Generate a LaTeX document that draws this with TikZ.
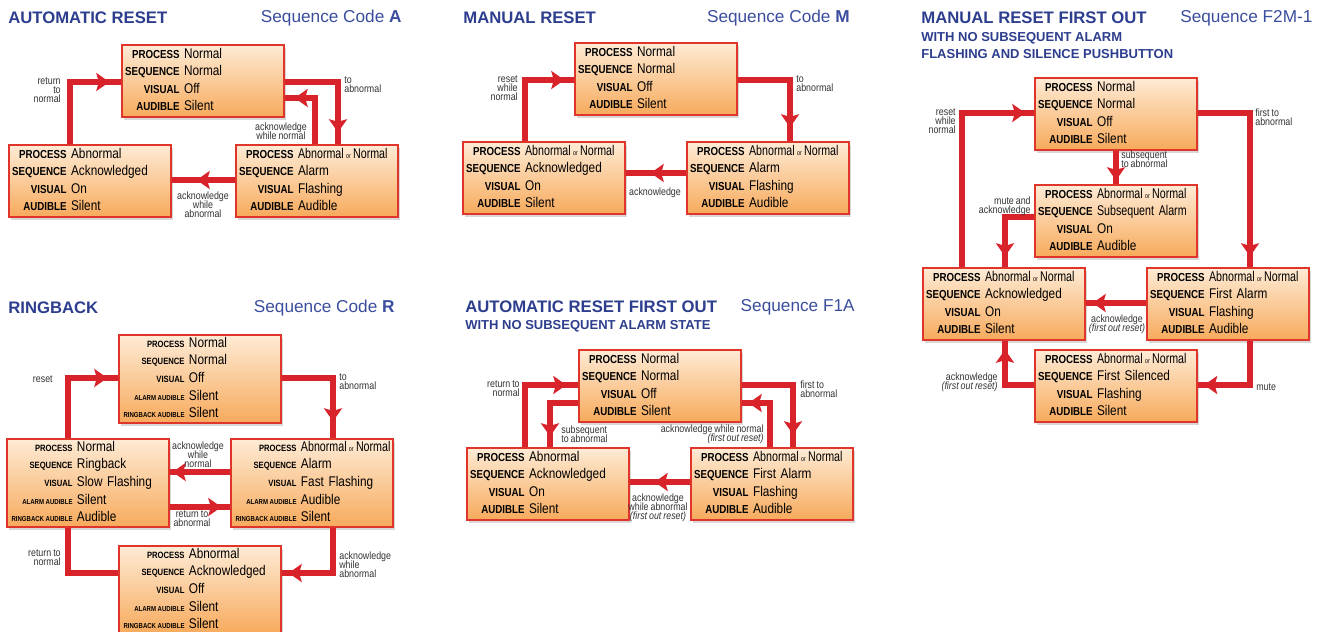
\documentclass[tikz,border=0pt]{standalone}
\usepackage{fontspec}
\usepackage{graphicx}
\setmainfont{Liberation Sans}
\newfontfamily\cfont{Liberation Sans}[FakeStretch=0.84, WordSpace=0.8]
\newfontfamily\nfont{Liberation Sans}[FakeStretch=0.76, WordSpace=0.7]
\usetikzlibrary{arrows.meta, decorations.markings, shadows}
\definecolor{wirered}{HTML}{D9232B}
\definecolor{boxred}{HTML}{E0352B}
\definecolor{boxtop}{HTML}{FEEBD5}
\definecolor{boxbot}{HTML}{F7AA5C}
\definecolor{titleblue}{HTML}{2D3E8E}
\definecolor{seqblue}{HTML}{3B4E9E}
\definecolor{notegray}{HTML}{333333}
\newcommand\lb[1]{{\fontsize{6.6}{10}\selectfont\bfseries #1}}
\newcommand\lbr[1]{{\fontsize{5.2}{10}\selectfont\bfseries #1}}
\newcommand\lbx[2]{{\fontsize{4.1}{10}\selectfont\bfseries #1\hspace{0.9pt}#2}}
\newcommand\ortxt{{\fontsize{4}{4}\selectfont or}}
\newcommand\abn{{\nfont Abnormal\hspace{1.3pt}\ortxt\hspace{1.3pt}Normal}}

\begin{document}
\begin{tikzpicture}[x=0.02cm, y=-0.02cm,
  statebox/.style={rectangle, draw=boxred, line width=0.8pt, top color=boxtop, bottom color=boxbot, minimum width=3.24cm, minimum height=1.44cm, text width=3.12cm, inner xsep=0.06cm, inner ysep=0pt, font={\cfont\fontsize{8}{10}\selectfont}, drop shadow={shadow xshift=0.04cm, shadow yshift=-0.06cm, opacity=0.3}},
  ringbox/.style={statebox, minimum height=1.76cm, inner xsep=0.09cm, text width=3.06cm},
  wire/.style={draw=wirered, line width=0.11cm},
  tipat/.style={postaction={decorate, decoration={markings, mark=at position #1 with {\arrow{Stealth[length=0.26cm, width=0.36cm, inset=0.05cm]}}}}},
  note/.style={font={\cfont\fontsize{6}{5}\selectfont\lineskiplimit=-5pt}, text=notegray, inner sep=0pt},
  ttl/.style={font={\bfseries\fontsize{9.5}{11}\selectfont}, text=titleblue, inner sep=0pt, anchor=west},
  seq/.style={font={\fontsize{9.8}{11}\selectfont}, text=seqblue, inner sep=0pt},
  subttl/.style={font={\bfseries\fontsize{7.4}{9}\selectfont}, text=titleblue, inner sep=0pt, anchor=west},
]
\useasboundingbox[fill=white] (0,0) rectangle (1322,632);

\node[ttl] (a_title) at (8,18) {AUTOMATIC RESET};
\node[seq, anchor=east] (a_code) at (402,18) {Sequence Code \textbf{A}};
\node[statebox] (a_norm) at (203,81) {\noindent\begin{tabular}{@{}r@{\hspace{2.5pt}}l@{}}
\lb{PROCESS} & Normal\\ \lb{SEQUENCE} & Normal\\ \lb{VISUAL} & Off\\ \lb{AUDIBLE} & Silent
\end{tabular}};
\node[statebox] (a_ack) at (90,181) {\noindent\begin{tabular}{@{}r@{\hspace{2.5pt}}l@{}}
\lb{PROCESS} & Abnormal\\ \lb{SEQUENCE} & Acknowledged\\ \lb{VISUAL} & On\\ \lb{AUDIBLE} & Silent
\end{tabular}};
\node[statebox] (a_alarm) at (317,181) {\noindent\begin{tabular}{@{}r@{\hspace{2.5pt}}l@{}}
\lb{PROCESS} & \abn\\ \lb{SEQUENCE} & Alarm\\ \lb{VISUAL} & Flashing\\ \lb{AUDIBLE} & Audible
\end{tabular}};
\coordinate (a_e1) at (70,82);
\coordinate (a_e2) at (338,82);
\coordinate (a_e3) at (315,98);
\coordinate (a_e4) at (204,180);
\draw[wire, tipat=-0.24cm] (a_e1 |- a_ack.north) |- (a_norm.west |- a_e1);
\draw[wire, tipat=-0.24cm] (a_norm.east |- a_e2) -| (a_e2 |- a_alarm.north);
\draw[wire, tipat=-0.2cm] (a_e3 |- a_alarm.north) |- (a_norm.east |- a_e3);
\draw[wire, tipat=-0.5cm] (a_alarm.west |- a_e4) -- (a_ack.east |- a_e4);
\node[note, anchor=east, align=right] (a_n1) at (61,90) {return\\to\\normal};
\node[note, anchor=west, align=left] (a_n2) at (344,85) {to\\abnormal};
\node[note, align=center] (a_n3) at (281,131) {acknowledge\\while normal};
\node[note, align=center] (a_n4) at (203,205) {acknowledge\\while\\abnormal};

\node[ttl] (m_title) at (463,18) {MANUAL RESET};
\node[seq, anchor=east] (m_code) at (850,18) {Sequence Code \textbf{M}};
\node[statebox] (m_norm) at (656,79) {\noindent\begin{tabular}{@{}r@{\hspace{2.5pt}}l@{}}
\lb{PROCESS} & Normal\\ \lb{SEQUENCE} & Normal\\ \lb{VISUAL} & Off\\ \lb{AUDIBLE} & Silent
\end{tabular}};
\node[statebox] (m_ack) at (544,178) {\noindent\begin{tabular}{@{}r@{\hspace{2.5pt}}l@{}}
\lb{PROCESS} & \abn\\ \lb{SEQUENCE} & Acknowledged\\ \lb{VISUAL} & On\\ \lb{AUDIBLE} & Silent
\end{tabular}};
\node[statebox] (m_alarm) at (768,178) {\noindent\begin{tabular}{@{}r@{\hspace{2.5pt}}l@{}}
\lb{PROCESS} & \abn\\ \lb{SEQUENCE} & Alarm\\ \lb{VISUAL} & Flashing\\ \lb{AUDIBLE} & Audible
\end{tabular}};
\coordinate (m_e1) at (525,80);
\coordinate (m_e2) at (790,80);
\coordinate (m_e3) at (656,173);
\draw[wire, tipat=-0.2cm] (m_e1 |- m_ack.north) |- (m_norm.west |- m_e1);
\draw[wire, tipat=-0.28cm] (m_norm.east |- m_e2) -| (m_e2 |- m_alarm.north);
\draw[wire, tipat=-0.5cm] (m_alarm.west |- m_e3) -- (m_ack.east |- m_e3);
\node[note, anchor=east, align=right] (m_n1) at (518,88) {reset\\while\\normal};
\node[note, anchor=west, align=left] (m_n2) at (796,84) {to\\abnormal};
\node[note, align=center] (m_n3) at (655,193) {acknowledge};

\node[ttl] (f_title) at (921,18) {MANUAL RESET FIRST OUT};
\node[seq, anchor=west] (f_code) at (1180,18) {Sequence F2M-1};
\node[subttl] (f_sub1) at (921,38) {WITH NO SUBSEQUENT ALARM};
\node[subttl] (f_sub2) at (921,54) {FLASHING AND SILENCE PUSHBUTTON};
\node[statebox] (f_norm) at (1116,114) {\noindent\begin{tabular}{@{}r@{\hspace{2.5pt}}l@{}}
\lb{PROCESS} & Normal\\ \lb{SEQUENCE} & Normal\\ \lb{VISUAL} & Off\\ \lb{AUDIBLE} & Silent
\end{tabular}};
\node[statebox] (f_sub) at (1116,221) {\noindent\begin{tabular}{@{}r@{\hspace{2.5pt}}l@{}}
\lb{PROCESS} & \abn\\ \lb{SEQUENCE} & {\nfont Subsequent Alarm}\\ \lb{VISUAL} & On\\ \lb{AUDIBLE} & Audible
\end{tabular}};
\node[statebox] (f_ack) at (1004,304) {\noindent\begin{tabular}{@{}r@{\hspace{2.5pt}}l@{}}
\lb{PROCESS} & \abn\\ \lb{SEQUENCE} & Acknowledged\\ \lb{VISUAL} & On\\ \lb{AUDIBLE} & Silent
\end{tabular}};
\node[statebox] (f_first) at (1228,304) {\noindent\begin{tabular}{@{}r@{\hspace{2.5pt}}l@{}}
\lb{PROCESS} & \abn\\ \lb{SEQUENCE} & First Alarm\\ \lb{VISUAL} & Flashing\\ \lb{AUDIBLE} & Audible
\end{tabular}};
\node[statebox] (f_sil) at (1116,386) {\noindent\begin{tabular}{@{}r@{\hspace{2.5pt}}l@{}}
\lb{PROCESS} & \abn\\ \lb{SEQUENCE} & First Silenced\\ \lb{VISUAL} & Flashing\\ \lb{AUDIBLE} & Silent
\end{tabular}};
\coordinate (f_e1) at (962,113);
\coordinate (f_e2) at (1250,113);
\coordinate (f_e3) at (1005,217);
\coordinate (f_e4) at (1116,303);
\coordinate (f_e5) at (1250,385);
\coordinate (f_e6) at (1005,385);
\draw[wire, tipat=-0.18cm] (f_e1 |- f_ack.north) |- (f_norm.west |- f_e1);
\draw[wire, tipat=-0.22cm] (f_norm.east |- f_e2) -| (f_e2 |- f_first.north);
\draw[wire, tipat=-0.08cm] (f_norm.south) -- (f_sub.north);
\draw[wire, tipat=-0.22cm] (f_sub.west |- f_e3) -| (f_e3 |- f_ack.north);
\draw[wire, tipat=-0.14cm] (f_first.west |- f_e4) -- (f_ack.east |- f_e4);
\draw[wire, tipat=-0.13cm] (f_e5 |- f_first.south) |- (f_sil.east |- f_e5);
\draw[wire, tipat=-0.18cm] (f_sil.west |- f_e6) -| (f_e6 |- f_ack.south);
\node[note, anchor=east, align=right] (f_n1) at (956,121) {reset\\while\\normal};
\node[note, anchor=west, align=left] (f_n2) at (1255,117) {first to\\abnormal};
\node[note, anchor=west, align=left] (f_n3) at (1121,159) {subsequent\\to abnormal};
\node[note, anchor=east, align=right] (f_n4) at (1031,206) {mute and\\acknowledge};
\node[note, align=center] (f_n5) at (1117,324) {acknowledge\\\textit{(first out reset)}};
\node[note, anchor=west, align=left] (f_n6) at (1256,387) {mute};
\node[note, anchor=east, align=right] (f_n7) at (998,382) {acknowledge\\\textit{(first out reset)}};

\node[ttl] (r_title) at (8,308) {RINGBACK};
\node[seq, anchor=east] (r_code) at (395,308) {Sequence Code \textbf{R}};
\node[ringbox] (r_norm) at (200,379) {\noindent\begin{tabular}{@{}r@{\hspace{2.5pt}}l@{}}
\lbr{PROCESS} & Normal\\ \lbr{SEQUENCE} & Normal\\ \lbr{VISUAL} & Off\\ \lbx{ALARM}{AUDIBLE} & Silent\\ \lbx{RINGBACK}{AUDIBLE} & Silent
\end{tabular}};
\node[ringbox] (r_ring) at (88,483) {\noindent\begin{tabular}{@{}r@{\hspace{2.5pt}}l@{}}
\lbr{PROCESS} & Normal\\ \lbr{SEQUENCE} & Ringback\\ \lbr{VISUAL} & Slow Flashing\\ \lbx{ALARM}{AUDIBLE} & Silent\\ \lbx{RINGBACK}{AUDIBLE} & Audible
\end{tabular}};
\node[ringbox] (r_alarm) at (312,483) {\noindent\begin{tabular}{@{}r@{\hspace{2.5pt}}l@{}}
\lbr{PROCESS} & \abn\\ \lbr{SEQUENCE} & Alarm\\ \lbr{VISUAL} & Fast Flashing\\ \lbx{ALARM}{AUDIBLE} & Audible\\ \lbx{RINGBACK}{AUDIBLE} & Silent
\end{tabular}};
\node[ringbox] (r_ack) at (200,590) {\noindent\begin{tabular}{@{}r@{\hspace{2.5pt}}l@{}}
\lbr{PROCESS} & Abnormal\\ \lbr{SEQUENCE} & Acknowledged\\ \lbr{VISUAL} & Off\\ \lbx{ALARM}{AUDIBLE} & Silent\\ \lbx{RINGBACK}{AUDIBLE} & Silent
\end{tabular}};
\coordinate (r_e1) at (68,378);
\coordinate (r_e2) at (333,378);
\coordinate (r_e3) at (200,472);
\coordinate (r_e4) at (200,507);
\coordinate (r_e5) at (68,573);
\coordinate (r_e6) at (333,573);
\draw[wire, tipat=-0.22cm] (r_e1 |- r_ring.north) |- (r_norm.west |- r_e1);
\draw[wire, tipat=-0.34cm] (r_norm.east |- r_e2) -| (r_e2 |- r_alarm.north);
\draw[wire, tipat=-0.06cm] (r_alarm.west |- r_e3) -- (r_ring.east |- r_e3);
\draw[wire, tipat=-0.18cm] (r_ring.east |- r_e4) -- (r_alarm.west |- r_e4);
\draw[wire] (r_e5 |- r_ring.south) |- (r_ack.west |- r_e5);
\draw[wire, tipat=-0.14cm] (r_e6 |- r_alarm.south) |- (r_ack.east |- r_e6);
\node[note, anchor=east, align=right] (r_n1) at (53,379) {reset};
\node[note, anchor=west, align=left] (r_n2) at (339,382) {to\\abnormal};
\node[note, align=center] (r_n3) at (198,455) {acknowledge\\while\\normal};
\node[note, align=center] (r_n4) at (192,519) {return to\\abnormal};
\node[note, anchor=east, align=right] (r_n5) at (61,558) {return to\\normal};
\node[note, anchor=west, align=left] (r_n6) at (339,565) {acknowledge\\while\\abnormal};

\node[ttl] (s_title) at (465,307) {AUTOMATIC RESET FIRST OUT};
\node[seq, anchor=east] (s_code) at (855,307) {Sequence F1A};
\node[subttl] (s_sub1) at (465,326) {WITH NO SUBSEQUENT ALARM STATE};
\node[statebox] (s_norm) at (660,386) {\noindent\begin{tabular}{@{}r@{\hspace{2.5pt}}l@{}}
\lb{PROCESS} & Normal\\ \lb{SEQUENCE} & Normal\\ \lb{VISUAL} & Off\\ \lb{AUDIBLE} & Silent
\end{tabular}};
\node[statebox] (s_ack) at (548,484) {\noindent\begin{tabular}{@{}r@{\hspace{2.5pt}}l@{}}
\lb{PROCESS} & Abnormal\\ \lb{SEQUENCE} & Acknowledged\\ \lb{VISUAL} & On\\ \lb{AUDIBLE} & Silent
\end{tabular}};
\node[statebox] (s_first) at (772,484) {\noindent\begin{tabular}{@{}r@{\hspace{2.5pt}}l@{}}
\lb{PROCESS} & \abn\\ \lb{SEQUENCE} & First Alarm\\ \lb{VISUAL} & Flashing\\ \lb{AUDIBLE} & Audible
\end{tabular}};
\coordinate (s_e1) at (525,385);
\coordinate (s_e2) at (550,403);
\coordinate (s_e3) at (793,385);
\coordinate (s_e4) at (770,403);
\coordinate (s_e5) at (660,482);
\draw[wire, tipat=-0.24cm] (s_e1 |- s_ack.north) |- (s_norm.west |- s_e1);
\draw[wire, tipat=-0.22cm] (s_norm.west |- s_e2) -| (s_e2 |- s_ack.north);
\draw[wire, tipat=-0.26cm] (s_norm.east |- s_e3) -| (s_e3 |- s_first.north);
\draw[wire, tipat=-0.14cm] (s_e4 |- s_first.north) |- (s_norm.east |- s_e4);
\draw[wire, tipat=-0.5cm] (s_first.west |- s_e5) -- (s_ack.east |- s_e5);
\node[note, anchor=east, align=right] (s_n1) at (520,389) {return to\\normal};
\node[note, anchor=west, align=left] (s_n2) at (561,434) {subsequent\\to abnormal};
\node[note, anchor=west, align=left] (s_n3) at (800,389) {first to\\abnormal};
\node[note, anchor=east, align=right] (s_n4) at (764,434) {acknowledge while normal\\\textit{(first out reset)}};
\node[note, align=center] (s_n5) at (658,508) {acknowledge\\while abnormal\\\textit{(first out reset)}};
\end{tikzpicture}
\end{document}
